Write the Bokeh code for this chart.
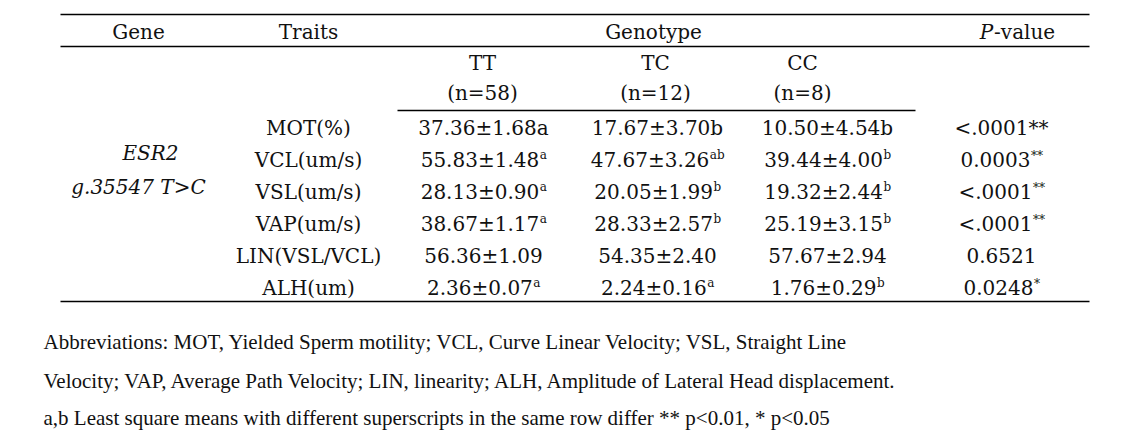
from bokeh.plotting import figure
from bokeh.models import ColumnDataSource, Range1d
from bokeh.embed import file_html
from bokeh.resources import INLINE
from bokeh.core.properties import value

# ---------------- data ----------------
gene_name = "ESR2"
snp_name = "g.35547 T>C"
header_gene = "Gene"
header_traits = "Traits"
header_genotype = "Genotype"
genotypes = ["TT", "TC", "CC"]
group_n = [58, 12, 8]
traits = ["MOT(%)", "VCL(um/s)", "VSL(um/s)", "VAP(um/s)", "LIN(VSL/VCL)", "ALH(um)"]

tt_mean = [37.36, 55.83, 28.13, 38.67, 56.36, 2.36]
tt_se = [1.68, 1.48, 0.90, 1.17, 1.09, 0.07]
tt_letter = ["a", "a", "a", "a", "", "a"]

tc_mean = [17.67, 47.67, 20.05, 28.33, 54.35, 2.24]
tc_se = [3.70, 3.26, 1.99, 2.57, 2.40, 0.16]
tc_letter = ["b", "ab", "b", "b", "", "a"]

cc_mean = [10.50, 39.44, 19.32, 25.19, 57.67, 1.76]
cc_se = [4.54, 4.00, 2.44, 3.15, 2.94, 0.29]
cc_letter = ["b", "b", "b", "b", "", "b"]

p_values = ["<.0001", "0.0003", "<.0001", "<.0001", "0.6521", "0.0248"]
p_stars = ["**", "**", "**", "**", "", "*"]

footnotes = [
    "Abbreviations: MOT, Yielded Sperm motility; VCL, Curve Linear Velocity; VSL, Straight Line",
    "Velocity; VAP, Average Path Velocity; LIN, linearity; ALH, Amplitude of Lateral Head displacement.",
    "a,b Least square means with different superscripts in the same row differ ** p<0.01, * p<0.05",
]

# ---------------- style / layout ----------------
FONT = "DejaVu Serif"
NOTE_FONT = "Liberation Serif"
F = 20          # table font size (px)
FS = 12         # superscript size (px)
INK = "#111111"
# first row shows its letters inline (normal size), the others as superscripts
inline_row = [True, False, False, False, False, False]

# DejaVu Serif advance widths (units per 2048 em)
ADV = {d: 1303 for d in "0123456789"}
ADV.update({".": 651, "\u00b1": 1716, "a": 1221, "b": 1316, "<": 1716, "*": 1024, " ": 651})


def tw(s, size):
    return sum(ADV.get(c, 1200) for c in s) * size / 2048.0


W, H = 1115, 432
p = figure(width=W, height=H, x_range=Range1d(0, W), y_range=Range1d(H, 0),
           output_backend="svg", toolbar_location=None, min_border=0,
           x_axis_location=None, y_axis_location=None)
p.grid.visible = False
p.outline_line_color = None
p.background_fill_color = "white"
p.border_fill_color = "white"

# rules
rx0 = [60, 60, 397, 60]
rx1 = [1089, 1089, 915, 1089]
ry = [14, 46, 110, 301]
p.segment(x0=rx0, y0=ry, x1=rx1, y1=ry, line_color="black", line_width=1.6)

# row positions
y_head = 31
y_geno = 62
y_n = 92
y_rows = [127 + 32 * i for i in range(len(traits))]

x_gene = 138
x_trait = 308
x_geno_head = [482, 655, 802]
x_geno_val = [483, 657, 827]
x_p_val = 1001
x_p_head = 1017


def txt(xs, ys, texts, size=F, align="center", style="normal", font=FONT):
    src = ColumnDataSource(dict(x=xs, y=ys, t=texts))
    p.text(x="x", y="y", text="t", source=src, text_font=value(font),
           text_font_size=f"{size}px", text_align=align, text_baseline="middle",
           text_color=INK, text_font_style=style)


# header
txt([x_gene, x_trait, (397 + 915) / 2 - 3], [y_head] * 3, [header_gene, header_traits, header_genotype])
p_w = 0.72 * F
pv_left = x_p_head - (p_w + 3.06 * F) / 2
txt([pv_left], [y_head], ["P"], align="left", style="italic")
txt([pv_left + p_w], [y_head], ["-value"], align="left")

txt(x_geno_head, [y_geno] * 3, genotypes)
txt(x_geno_head, [y_n] * 3, [f"(n={n})" for n in group_n])

# gene labels
txt([x_gene + 12, x_gene], [152, 186], [gene_name, snp_name], style="italic")

# traits
txt([x_trait] * len(traits), y_rows, traits)

# cells
base_x, base_y, base_t = [], [], []
sup_x, sup_y, sup_t = [], [], []
cols = [(tt_mean, tt_se, tt_letter), (tc_mean, tc_se, tc_letter), (cc_mean, cc_se, cc_letter)]
for j, (m, s, l) in enumerate(cols):
    for i in range(len(traits)):
        base = f"{m[i]:.2f}\u00b1{s[i]:.2f}"
        sup = l[i]
        if inline_row[i]:
            base, sup = base + sup, ""
        total = tw(base, F) + tw(sup, FS)
        left = x_geno_val[j] - total / 2
        base_x.append(left); base_y.append(y_rows[i]); base_t.append(base)
        if sup:
            sup_x.append(left + tw(base, F) + 0.5); sup_y.append(y_rows[i] - 5); sup_t.append(sup)

for i in range(len(traits)):
    base = p_values[i]
    sup = p_stars[i]
    if inline_row[i]:
        base, sup = base + sup, ""
    total = tw(base, F) + tw(sup, FS)
    left = x_p_val - total / 2
    base_x.append(left); base_y.append(y_rows[i]); base_t.append(base)
    if sup:
        sup_x.append(left + tw(base, F) + 0.5); sup_y.append(y_rows[i] - 4); sup_t.append(sup)

txt(base_x, base_y, base_t, align="left")
txt(sup_x, sup_y, sup_t, size=FS, align="left")

# footnotes
txt([43] * 3, [341, 380, 417], footnotes, size=21, align="left", font=NOTE_FONT)

open("out.html", "w").write(file_html(p, INLINE))
